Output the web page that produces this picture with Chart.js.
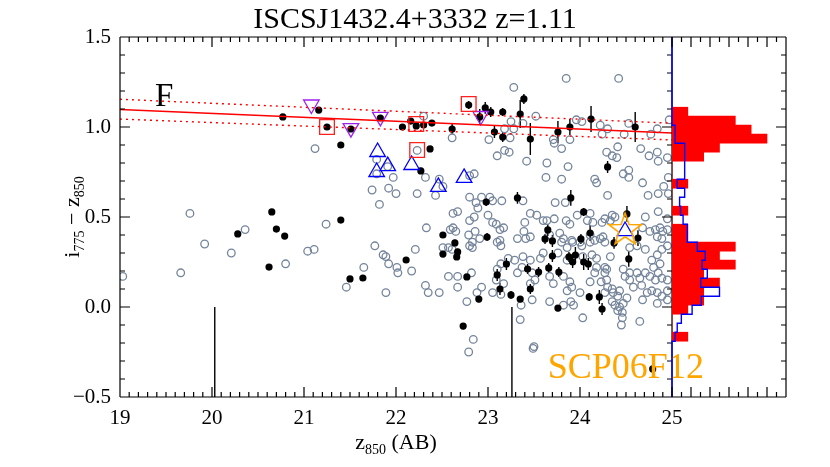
<!DOCTYPE html>
<html>
<head>
<meta charset="utf-8">
<script src="https://cdn.jsdelivr.net/npm/chart.js@4.4.0/dist/chart.umd.min.js"></script>
<style>
  html, body { margin: 0; padding: 0; background: #fff; }
  #wrap { position: relative; width: 830px; height: 467px; }
  #wrap canvas { position: absolute; left: 0; top: 0; }
</style>
</head>
<body>
<div id="wrap">
  <canvas id="cmd" width="830" height="467"></canvas>
  <canvas id="hist" width="830" height="467"></canvas>
</div>
<script>
// ---- data ----
const xTickValues = [19, 20, 21, 22, 23, 24, 25];
const yTickValues = [-0.5, 0, 0.5, 1.0, 1.5];
const yTickLabels = ['\u22120.5', '0.0', '0.5', '1.0', '1.5'];

// field galaxies (grey open circles)
const fieldX = [19.03,19.66,19.76,19.92,20.21,20.36,20.80,21.04,21.11,21.24,21.46,21.65,21.74,21.82,21.77,21.86,21.89,21.92,21.89,21.92,
  21.12,21.79,21.79,21.91,21.97,22.00,22.23,22.23,22.30,22.32,22.43,22.47,22.51,22.61,22.80,22.85,23.01,23.10,23.18,23.23,
  23.24,23.18,23.28,23.25,23.38,23.28,23.52,23.42,23.64,23.85,24.42,23.71,23.72,23.80,23.89,23.96,24.02,24.22,24.30,24.24,
  24.53,24.48,24.84,24.77,24.97,23.87,23.80,24.16,24.18,24.30,24.29,24.35,24.40,24.41,24.47,24.53,24.53,24.68,24.66,24.75,
  24.84,24.85,24.95,24.96,24.85,24.91,24.74,24.96,23.63,22.33,22.62,22.67,22.62,22.65,22.59,22.80,22.87,22.93,23.02,23.05,
  23.15,22.89,22.80,22.85,23.00,23.05,23.09,23.13,23.17,23.38,23.46,23.40,23.39,22.86,22.79,22.91,22.83,23.13,23.10,23.32,
  23.41,23.46,23.73,23.84,23.53,23.60,23.64,23.72,23.85,23.89,23.97,24.08,24.11,24.14,24.24,24.27,24.35,24.33,24.38,24.71,
  24.85,24.95,24.68,24.76,24.82,24.87,24.90,24.95,24.84,24.89,24.11,24.16,24.22,24.25,24.27,23.82,23.91,24.00,23.67,23.78,
  22.01,22.02,22.17,22.21,22.32,22.35,22.47,22.57,22.67,22.82,22.67,22.77,22.93,22.88,23.05,23.09,23.10,23.14,23.22,23.17,
  23.14,23.29,23.32,23.37,23.38,23.46,23.46,23.48,23.36,23.35,22.84,22.79,23.49,22.51,22.57,22.61,22.80,22.83,23.14,23.80,
  23.86,23.92,24.02,24.11,23.76,23.60,23.57,23.86,24.03,24.13,24.18,24.33,24.27,24.29,24.18,24.16,23.48,23.51,23.67,23.71,
  23.82,23.89,23.86,23.91,24.00,24.11,24.23,24.30,24.35,24.43,24.36,24.27,24.41,24.51,24.47,24.43,24.41,24.46,24.46,24.45,
  24.38,24.35,24.54,24.49,24.54,24.47,24.62,24.65,24.71,24.76,24.82,24.85,24.89,24.95,24.80,24.87,24.58,24.67,24.73,24.78,
  24.84,24.89,24.95,24.68,24.84,24.95,24.65,24.54,24.62,24.71,24.78,24.84,24.95,24.89,24.29,24.27,24.03,23.50,23.82,23.90,
  23.93,23.67];
const fieldY = [0.17,0.19,0.52,0.35,0.30,0.43,0.24,0.31,0.32,0.46,0.11,0.22,0.65,0.57,0.34,0.29,0.28,0.24,0.08,0.66,
  0.88,0.82,0.74,0.78,0.72,0.63,0.63,0.87,1.06,0.72,0.62,0.71,0.67,0.94,0.73,0.74,0.93,0.84,0.87,0.86,
  0.94,0.99,0.99,1.03,1.02,1.22,1.06,0.81,0.80,1.27,1.27,0.93,0.91,0.88,0.93,1.04,1.03,1.01,0.99,0.96,
  1.02,0.96,0.99,0.96,1.04,0.78,0.71,0.71,0.69,0.62,0.86,0.84,0.83,0.89,0.74,0.76,0.72,0.69,0.88,0.84,
  0.86,0.81,0.83,0.72,0.63,0.67,0.62,0.63,0.72,0.44,0.52,0.53,0.44,0.42,0.43,0.61,0.58,0.61,0.61,0.59,
  0.59,0.55,0.48,0.50,0.51,0.47,0.46,0.43,0.44,0.59,0.52,0.47,0.42,0.42,0.40,0.38,0.36,0.37,0.36,0.38,
  0.38,0.39,0.58,0.58,0.51,0.48,0.48,0.49,0.48,0.46,0.51,0.48,0.52,0.47,0.47,0.49,0.51,0.48,0.50,0.50,
  0.53,0.49,0.44,0.42,0.43,0.44,0.42,0.43,0.39,0.38,0.40,0.37,0.38,0.39,0.36,0.38,0.37,0.36,0.40,0.41,
  0.22,0.19,0.20,0.32,0.12,0.08,0.08,0.17,0.17,0.19,0.11,0.03,0.11,0.08,0.08,0.15,0.21,0.24,0.27,0.13,
  0.07,0.26,0.19,0.22,0.28,0.26,0.13,0.04,0.01,-0.07,-0.18,-0.25,-0.23,0.33,0.33,0.32,0.34,0.33,0.34,0.36,
  0.33,0.36,0.34,0.36,0.30,0.30,0.27,0.26,0.28,0.29,0.27,0.28,0.22,0.21,0.22,0.19,0.19,0.15,0.17,0.13,
  0.17,0.14,0.09,0.11,0.08,0.14,0.14,0.11,0.10,0.09,0.08,0.08,0.06,0.05,0.02,0.00,-0.02,-0.03,-0.06,-0.10,
  0.01,0.03,0.19,0.17,0.15,0.21,0.19,0.16,0.19,0.17,0.15,0.19,0.16,0.15,0.22,0.24,0.11,0.12,0.08,0.09,
  0.08,0.06,0.09,0.04,0.02,0.04,-0.08,0.33,0.34,0.32,0.26,0.29,0.34,0.32,0.15,0.19,-0.06,-0.22,0.01,0.03,
  0.01,0.03];

// members (black filled points with error bars)
const memberX = [20.77,21.16,21.25,21.40,21.51,21.83,22.07,22.16,22.22,22.30,22.39,22.37,22.27,22.61,22.79,22.97,23.03,22.91,23.07,23.16,
  23.16,23.35,23.39,23.46,23.76,23.89,24.12,24.60,24.30,22.98,23.32,23.90,22.51,22.64,22.99,24.04,24.11,24.01,23.65,23.62,
  23.70,24.51,24.37,24.63,24.53,22.11,22.51,22.67,22.66,23.70,23.88,23.95,23.92,24.04,24.09,23.20,23.43,23.55,23.66,23.77,
  23.10,22.77,23.13,23.46,23.25,23.35,22.90,24.10,24.21,24.24,23.76,22.73,20.65,20.70,20.79,20.28,20.62,21.40,21.50,21.64,
  24.79];
const memberY = [1.056,1.094,1.000,0.900,0.989,1.050,1.000,1.033,1.006,1.011,1.022,0.878,0.756,0.989,1.122,1.106,1.083,1.056,0.972,1.083,
  0.944,1.072,1.156,0.933,0.972,1.000,1.044,1.000,0.778,0.583,0.606,0.606,0.400,0.356,0.389,0.528,0.411,0.378,0.428,0.378,
  0.367,0.517,0.356,0.383,0.267,0.261,0.294,0.306,0.278,0.283,0.278,0.289,0.250,0.250,0.239,0.239,0.211,0.194,0.217,0.194,
  0.178,0.167,0.100,0.100,0.067,0.044,0.044,0.056,0.056,-0.011,-0.006,-0.106,0.528,0.433,0.394,0.406,0.222,0.483,0.156,0.161,
  -0.344];
const memberErr = [0.011,0.011,0.011,0.011,0.011,0.017,0.011,0.011,0.011,0.011,0.011,0.017,0.017,0.028,0.022,0.033,0.028,0.044,0.033,0.022,
  0.028,0.078,0.028,0.089,0.061,0.044,0.072,0.083,0.033,0.022,0.033,0.044,0.017,0.017,0.022,0.022,0.044,0.028,0.033,0.028,
  0.033,0.044,0.033,0.044,0.044,0.011,0.011,0.017,0.017,0.033,0.028,0.044,0.033,0.044,0.033,0.033,0.028,0.028,0.028,0.028,
  0.033,0.017,0.033,0.028,0.022,0.017,0.017,0.022,0.039,0.033,0.017,0.017,0.011,0.011,0.011,0.011,0.011,0.011,0.011,0.017,
  0.017];

// special symbols
const boxX = [21.25, 22.22, 22.23, 22.79];
const boxY = [1.000, 1.017, 0.872, 1.128];
const downX = [21.08, 21.51, 21.83, 22.92];
const downY = [1.125, 0.994, 1.056, 1.061];
const upX = [21.80, 21.79, 21.91, 22.17, 22.46, 22.74, 24.49];
const upY = [0.861, 0.750, 0.783, 0.789, 0.667, 0.717, 0.422];
const starX = [24.49];
const starY = [0.428];

// red sequence fit and its scatter band
const fitX = [19, 25];
const fitY = [1.097, 0.967];
const fitHi = [1.154, 1.021];
const fitLo = [1.044, 0.928];

// magnitude limits (vertical black lines)
const limitX = [20.03, 23.26];
const limitY = [0.0, -0.5];

// colour histograms (right panel)
const binCenter = [1.085,1.035,0.985,0.935,0.885,0.835,0.785,0.735,0.685,0.635,0.585,0.535,0.485,
  0.435,0.385,0.335,0.285,0.235,0.185,0.135,0.085,0.035,-0.015,-0.065,-0.115,-0.165];
const redCounts = [1,4,5,6,3,2,0,0,1,0,0,1,0,1,1,4,3,4,2,3,2,2,1,0,0,1];
const blueCounts = [0,0,0.2,0.2,0.8,0.8,0.8,0.8,0.33,0.8,0.48,0.54,0.7,0.97,0.97,1.6,2.1,1.9,2.23,1.81,3.0,1.85,1.27,0.59,0.33,0.2];

Chart.defaults.font.family = "'Liberation Serif', 'DejaVu Serif', serif";
Chart.defaults.color = '#000';

const pts = (xs, ys) => xs.map((v, i) => ({ x: v, y: ys[i] }));

// star outline used as a point style
function starImage(r, color) {
  const c = document.createElement('canvas');
  const s = Math.ceil(r * 2 + 4);
  c.width = s; c.height = s;
  const g = c.getContext('2d');
  g.strokeStyle = color; g.lineWidth = 1.6; g.lineJoin = 'miter';
  g.beginPath();
  for (let i = 0; i < 10; i++) {
    const rr = i % 2 ? r * 0.4 : r;
    const a = -Math.PI / 2 + i * Math.PI / 5;
    const px = s / 2 + rr * Math.cos(a), py = s / 2 + rr * Math.sin(a);
    if (i) g.lineTo(px, py); else g.moveTo(px, py);
  }
  g.closePath(); g.stroke();
  return c;
}

// IDL-like frame with inward ticks
const idlAxes = {
  id: 'idlAxes',
  afterDatasetsDraw(chart, args, o) {
    const { ctx, chartArea: a } = chart;
    const xs = chart.scales.x, ys = chart.scales.y;
    ctx.save();
    ctx.strokeStyle = '#000';
    ctx.lineWidth = 1.2;
    ctx.beginPath();
    ctx.moveTo(a.left, a.top); ctx.lineTo(a.right, a.top);
    ctx.moveTo(a.left, a.bottom); ctx.lineTo(a.right, a.bottom);
    if (o.left) { ctx.moveTo(a.left, a.top); ctx.lineTo(a.left, a.bottom); }
    ctx.moveTo(a.right, a.top); ctx.lineTo(a.right, a.bottom);
    const nx = Math.round((xs.max - xs.min) / o.xStep);
    for (let k = 0; k <= nx; k++) {
      const px = xs.getPixelForValue(xs.min + k * o.xStep);
      const len = k % o.xMajor === 0 ? 10 : 5;
      ctx.moveTo(px, a.bottom); ctx.lineTo(px, a.bottom - len);
      ctx.moveTo(px, a.top); ctx.lineTo(px, a.top + len);
    }
    const ny = Math.round((ys.max - ys.min) / o.yStep);
    for (let k = 0; k <= ny; k++) {
      const py = ys.getPixelForValue(ys.min + k * o.yStep);
      const len = k % o.yMajor === 0 ? 10 : 5;
      if (o.left) { ctx.moveTo(a.left, py); ctx.lineTo(a.left + len, py); }
      ctx.moveTo(a.right, py); ctx.lineTo(a.right - len, py);
    }
    ctx.stroke();
    ctx.restore();
  }
};

// vertical error bars on the member points
const errorBars = {
  id: 'errorBars',
  beforeDatasetsDraw(chart) {
    const { ctx } = chart;
    const xs = chart.scales.x, ys = chart.scales.y;
    ctx.save();
    ctx.strokeStyle = '#000';
    ctx.lineWidth = 1.4;
    ctx.beginPath();
    memberX.forEach((v, i) => {
      const px = xs.getPixelForValue(v);
      ctx.moveTo(px, ys.getPixelForValue(memberY[i] + memberErr[i]));
      ctx.lineTo(px, ys.getPixelForValue(memberY[i] - memberErr[i]));
    });
    ctx.stroke();
    ctx.restore();
  }
};

// title, axis titles with subscripts, panel labels
const labels = {
  id: 'labels',
  afterDraw(chart) {
    const { ctx, chartArea: a } = chart;
    const xs = chart.scales.x, ys = chart.scales.y;
    const serif = "'Liberation Serif', serif";
    ctx.save();
    ctx.fillStyle = '#000';
    ctx.textBaseline = 'alphabetic';

    ctx.font = '30px ' + serif;
    ctx.textAlign = 'center';
    ctx.fillText('ISCSJ1432.4+3332 z=1.11', 415, 28);

    const drawSub = (parts, x, y, align) => {
      let w = 0;
      parts.forEach(p => { ctx.font = p[1] + 'px ' + serif; w += ctx.measureText(p[0]).width; });
      let cx = align === 'center' ? x - w / 2 : x;
      ctx.textAlign = 'left';
      parts.forEach(p => {
        ctx.font = p[1] + 'px ' + serif;
        ctx.fillText(p[0], cx, y + p[2]);
        cx += ctx.measureText(p[0]).width;
      });
    };
    drawSub([['z', 22, 0], ['850', 14, 5], [' (AB)', 22, 0]], (a.left + a.right) / 2, 449, 'center');

    ctx.save();
    ctx.translate(79, 217);
    ctx.rotate(-Math.PI / 2);
    drawSub([['i', 22, 0], ['775', 14, 5], [' \u2212 z', 22, 0], ['850', 14, 5]], 0, 0, 'center');
    ctx.restore();

    ctx.font = '33px ' + serif;
    ctx.textAlign = 'left';
    ctx.fillText('F', xs.getPixelForValue(19.38), ys.getPixelForValue(1.115));

    ctx.fillStyle = '#ffa500';
    ctx.font = '36px ' + serif;
    ctx.fillText('SCP06F12', xs.getPixelForValue(23.65), ys.getPixelForValue(-0.394));
    ctx.restore();
  }
};

const lineStyle = (color, dash) => ({
  showLine: true, pointRadius: 0, borderColor: color, borderWidth: 1.4,
  borderDash: dash, fill: false
});

new Chart(document.getElementById('cmd'), {
  type: 'scatter',
  data: {
    datasets: [
      { label: 'field', data: pts(fieldX, fieldY), pointRadius: 3.8, pointBorderWidth: 1.3,
        borderColor: '#74849a', backgroundColor: 'rgba(0,0,0,0)', order: 6 },
      { label: 'members', data: pts(memberX, memberY), pointRadius: 3.6, pointBorderWidth: 0,
        borderColor: '#000', backgroundColor: '#000', order: 5 },
      { label: 'boxes', data: pts(boxX, boxY), pointStyle: 'rect', pointRadius: 10.4, pointBorderWidth: 1.3,
        borderColor: '#ff2020', backgroundColor: 'rgba(0,0,0,0)', order: 4 },
      { label: 'down', data: pts(downX, downY), pointStyle: 'triangle', rotation: 180, pointRadius: 9,
        pointBorderWidth: 1.3, borderColor: '#a020f0', backgroundColor: 'rgba(0,0,0,0)', order: 4 },
      { label: 'up', data: pts(upX, upY), pointStyle: 'triangle', pointRadius: 9, pointBorderWidth: 1.3,
        borderColor: '#0000ff', backgroundColor: 'rgba(0,0,0,0)', order: 4 },
      { label: 'sn', data: pts(starX, starY), pointStyle: starImage(17, '#ffa500'), pointRadius: 17,
        order: 3 },
      Object.assign({ label: 'fit', data: pts(fitX, fitY), order: 1 }, lineStyle('#ff0000', [])),
      Object.assign({ label: 'hi', data: pts(fitX, fitHi), order: 1 }, lineStyle('#ff0000', [2, 4])),
      Object.assign({ label: 'lo', data: pts(fitX, fitLo), order: 1 }, lineStyle('#ff0000', [2, 4])),
      Object.assign({ label: 'lim1', data: [{ x: limitX[0], y: limitY[0] }, { x: limitX[0], y: limitY[1] }], order: 2 },
        lineStyle('#000', [])),
      Object.assign({ label: 'lim2', data: [{ x: limitX[1], y: limitY[0] }, { x: limitX[1], y: limitY[1] }], order: 2 },
        lineStyle('#000', []))
    ]
  },
  options: {
    responsive: false,
    animation: false,
    events: [],
    layout: { padding: { top: 37, right: 158, left: 0, bottom: 0 } },
    plugins: {
      legend: { display: false },
      tooltip: { enabled: false },
      idlAxes: { left: true, xStep: 0.1, xMajor: 10, yStep: 0.1, yMajor: 5 }
    },
    scales: {
      x: {
        type: 'linear', min: 19, max: 25,
        grid: { display: false, drawTicks: false }, border: { display: false },
        afterBuildTicks: s => { s.ticks = xTickValues.map(v => ({ value: v })); },
        afterFit: s => { s.height = 70; },
        ticks: { font: { size: 21 }, padding: 9, maxRotation: 0, autoSkip: false, callback: v => String(v) }
      },
      y: {
        type: 'linear', min: -0.5, max: 1.5,
        grid: { display: false, drawTicks: false }, border: { display: false },
        afterBuildTicks: s => { s.ticks = yTickValues.map(v => ({ value: v })); },
        afterFit: s => { s.width = 120; },
        ticks: { font: { size: 21 }, padding: 9, autoSkip: false,
          callback: v => yTickLabels[yTickValues.indexOf(v)] }
      }
    }
  },
  plugins: [errorBars, idlAxes, labels]
});

// right panel: red members histogram and blue field outline
const stepPts = [{ x: 0, y: 1.5 }];
binCenter.forEach((c, i) => stepPts.push({ x: blueCounts[i], y: c + 0.025 }));
stepPts.push({ x: 0, y: binCenter[binCenter.length - 1] - 0.025 });
stepPts.push({ x: 0, y: -0.5 });

new Chart(document.getElementById('hist'), {
  type: 'scatter',
  data: {
    datasets: [
      { type: 'bar', indexAxis: 'y', label: 'red', data: pts(redCounts, binCenter),
        backgroundColor: '#ff0000', borderWidth: 0, barPercentage: 1, categoryPercentage: 1, order: 2 },
      { label: 'blue', data: stepPts, showLine: true, stepped: 'after', pointRadius: 0,
        borderColor: '#0000ff', borderWidth: 1.4, clip: 3, order: 1 }
    ]
  },
  options: {
    responsive: false,
    animation: false,
    events: [],
    layout: { padding: { top: 37, right: 44, left: 672, bottom: 70 } },
    plugins: {
      legend: { display: false },
      tooltip: { enabled: false },
      idlAxes: { left: false, xStep: 0.6, xMajor: 2, yStep: 0.1, yMajor: 5 }
    },
    scales: {
      x: { type: 'linear', min: 0, max: 7.2, offset: false, display: false },
      y: { type: 'linear', min: -0.5, max: 1.5, offset: false, display: false,
        ticks: { stepSize: 0.05 }, grid: { offset: false } }
    }
  },
  plugins: [idlAxes]
});
</script>
</body>
</html>
